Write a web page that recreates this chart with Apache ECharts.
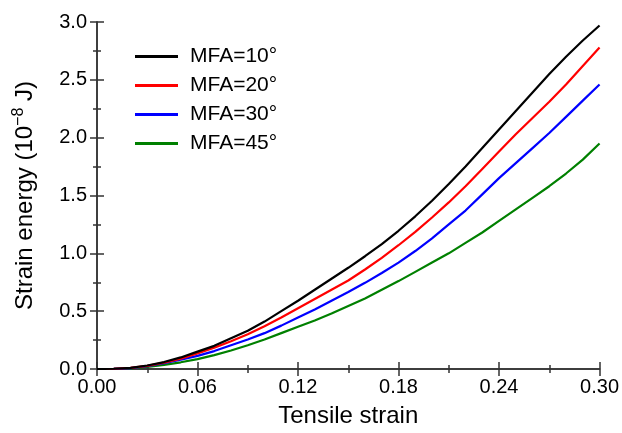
<!DOCTYPE html>
<html><head><meta charset="utf-8">
<script src="https://cdn.jsdelivr.net/npm/echarts@6/dist/echarts.min.js"></script>
<style>html,body{margin:0;padding:0;background:#fff}#c{width:622px;height:433px}</style>
</head><body><div id="c"></div>
<script>
const strain = [0.00,0.01,0.02,0.03,0.04,0.05,0.06,0.07,0.08,0.09,0.10,0.11,0.12,0.13,0.14,0.15,0.16,0.17,0.18,0.19,0.20,0.21,0.22,0.23,0.24,0.25,0.26,0.27,0.28,0.29,0.30];
const mfa10 = [0,0.002,0.010,0.030,0.060,0.100,0.150,0.200,0.265,0.330,0.410,0.500,0.590,0.685,0.780,0.875,0.975,1.080,1.195,1.320,1.455,1.600,1.750,1.910,2.070,2.230,2.390,2.550,2.700,2.840,2.970];
const mfa20 = [0,0.002,0.009,0.027,0.055,0.090,0.135,0.185,0.240,0.300,0.370,0.445,0.525,0.605,0.685,0.765,0.860,0.960,1.070,1.185,1.310,1.440,1.580,1.730,1.880,2.030,2.170,2.310,2.460,2.620,2.780];
const mfa30 = [0,0.001,0.008,0.025,0.050,0.080,0.113,0.155,0.205,0.255,0.310,0.375,0.445,0.515,0.590,0.665,0.745,0.830,0.920,1.020,1.130,1.250,1.370,1.510,1.650,1.780,1.910,2.040,2.180,2.320,2.460];
const mfa45 = [0,0.001,0.006,0.018,0.035,0.058,0.085,0.120,0.160,0.205,0.255,0.310,0.365,0.420,0.480,0.545,0.610,0.685,0.760,0.840,0.920,1.000,1.090,1.180,1.280,1.380,1.480,1.580,1.690,1.810,1.950];
const names = ['MFA=10°','MFA=20°','MFA=30°','MFA=45°'];
const colors = ['#000000','#ff0000','#0000ff','#008000'];
const seriesData = [mfa10, mfa20, mfa30, mfa45];

const font = 'Liberation Sans, Arial, sans-serif';
const chart = echarts.init(document.getElementById('c'));
const axisLine = {show:true, lineStyle:{color:'#333', width:1.5}};
const tickStyle = {color:'#333', width:1.5};
chart.setOption({
  animation:false,
  grid:{left:97, right:22, top:22, bottom:57, show:false},
  legend:{
    orient:'vertical', left:130, top:41, itemWidth:43, itemHeight:3, itemGap:8,
    icon:'rect',
    textStyle:{fontFamily:font, fontSize:21, color:'#000', padding:[0,0,0,7], lineHeight:21},
    data:names
  },
  xAxis:[{
    type:'value', min:0, max:0.30, interval:0.06,
    axisLine:axisLine,
    axisTick:{show:true, inside:true, length:7, lineStyle:tickStyle},
    minorTick:{show:true, splitNumber:2, length:4, lineStyle:tickStyle},
    splitLine:{show:false},
    axisLabel:{fontFamily:font, fontSize:20, color:'#000', margin:8, formatter:v=>v.toFixed(2)},
    name:'Tensile strain', nameLocation:'middle', nameGap:35,
    nameTextStyle:{fontFamily:font, fontSize:24, color:'#000', verticalAlign:'top'}
  },{
    type:'value', min:0, max:0.30, interval:0.06, position:'top',
    axisLine:axisLine,
    axisTick:{show:true, inside:true, length:7, lineStyle:tickStyle},
    minorTick:{show:true, splitNumber:2, length:4, lineStyle:tickStyle},
    splitLine:{show:false}, axisLabel:{show:false}
  }],
  yAxis:[{
    type:'value', min:0, max:3, interval:0.5,
    axisLine:axisLine,
    axisTick:{show:true, inside:true, length:7, lineStyle:tickStyle},
    minorTick:{show:true, splitNumber:2, length:4, lineStyle:tickStyle},
    splitLine:{show:false},
    axisLabel:{fontFamily:font, fontSize:20, color:'#000', margin:10, formatter:v=>v.toFixed(1)},
    name:'{a|Strain energy (10}{s|−8}{a| J)}', nameLocation:'middle', nameGap:58,
    nameTextStyle:{fontFamily:font, fontSize:24, color:'#000',
      rich:{a:{fontFamily:font, fontSize:24, color:'#000'}, s:{fontFamily:font, fontSize:16, color:'#000', verticalAlign:'top', padding:[0,0,12,0]}}}
  },{
    type:'value', min:0, max:3, interval:0.5, position:'right',
    axisLine:axisLine,
    axisTick:{show:true, inside:true, length:7, lineStyle:tickStyle},
    minorTick:{show:true, splitNumber:2, length:4, lineStyle:tickStyle},
    splitLine:{show:false}, axisLabel:{show:false}
  }],
  series: seriesData.map((d,i)=>({
    name:names[i], type:'line', symbol:'none', smooth:false,
    data: strain.map((x,j)=>[x,d[j]]),
    lineStyle:{color:colors[i], width:2.2}, itemStyle:{color:colors[i]},
    z: 10-i
  }))
});
</script></body></html>
